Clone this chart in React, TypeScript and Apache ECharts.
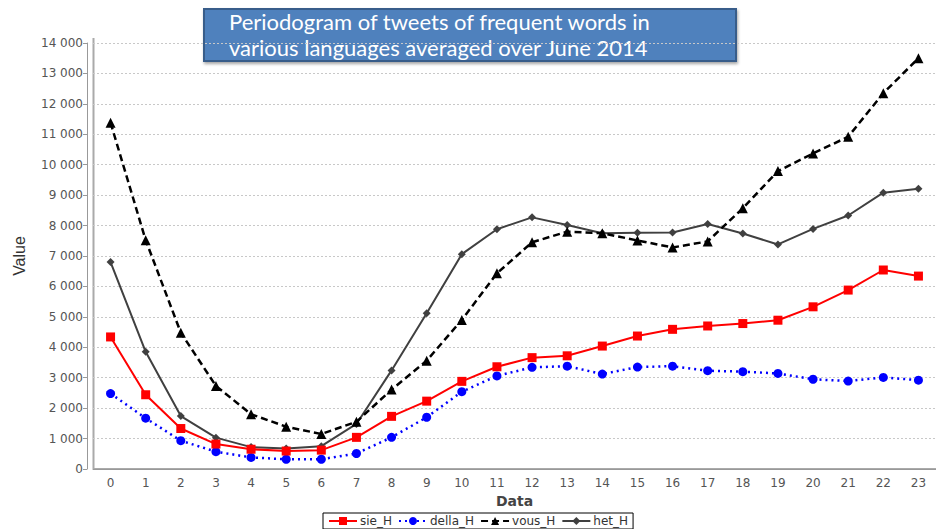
import React, { useEffect, useRef } from "react";
import * as echarts from "echarts";

const hours = ["0","1","2","3","4","5","6","7","8","9","10","11","12","13","14","15","16","17","18","19","20","21","22","23"];
const sieH = [4340, 2440, 1330, 820, 650, 590, 620, 1040, 1730, 2230, 2880, 3360, 3660, 3720, 4040, 4370, 4590, 4700, 4780, 4890, 5330, 5880, 6540, 6340];
const dellaH = [2480, 1670, 930, 570, 380, 320, 320, 510, 1040, 1700, 2540, 3060, 3340, 3380, 3120, 3350, 3380, 3230, 3200, 3140, 2950, 2890, 3010, 2920];
const vousH = [11380, 7520, 4480, 2730, 1800, 1390, 1150, 1550, 2610, 3560, 4900, 6430, 7450, 7800, 7750, 7510, 7280, 7480, 8570, 9790, 10370, 10920, 12350, 13500];
const hetH = [6800, 3850, 1740, 1030, 720, 670, 750, 1480, 3240, 5120, 7060, 7880, 8270, 8020, 7750, 7760, 7770, 8050, 7740, 7380, 7890, 8330, 9080, 9210];
const titleLines = ["Periodogram of tweets of frequent words in", "various languages averaged over June 2014"];

const fmt = (v: number) => String(v).replace(/\B(?=(\d{3})+(?!\d))/g, " ");

export default function App() {
  const ref = useRef<HTMLDivElement>(null);
  useEffect(() => {
    if (!ref.current) return;
    const chart = echarts.init(ref.current, null, { renderer: "svg" });
    const axisFont = "DejaVu Sans, Verdana, sans-serif";
    chart.setOption({
      animation: false,
      backgroundColor: "#ffffff",
      grid: { left: 93, right: -8, top: 43, bottom: 60, containLabel: false },
      xAxis: {
        type: "category",
        data: hours,
        offset: 4,
        name: "Data",
        nameLocation: "middle",
        nameGap: 19,
        nameTextStyle: { fontFamily: axisFont, fontWeight: "bold", fontSize: 14, color: "#444" },
        axisLine: { lineStyle: { color: "#999", width: 1 } },
        axisTick: { alignWithLabel: true, length: 4, lineStyle: { color: "#999" } },
        axisLabel: { fontFamily: axisFont, fontSize: 12, color: "#555", margin: 4 },
        splitLine: { show: false },
      },
      yAxis: {
        type: "value",
        min: 0,
        max: 14000,
        interval: 1000,
        offset: 6,
        name: "Value",
        nameLocation: "middle",
        nameGap: 60,
        nameTextStyle: { fontFamily: "Liberation Sans Narrow, Liberation Sans, sans-serif", fontSize: 16, color: "#333" },
        axisLine: { show: true, lineStyle: { color: "#999", width: 1 } },
        axisTick: { show: true, length: 4, lineStyle: { color: "#999" } },
        axisLabel: { fontFamily: axisFont, fontSize: 12, color: "#555", margin: 4, formatter: fmt },
        splitLine: { show: true, lineStyle: { color: "#c8c8c8", type: [2, 2], width: 1 } },
      },
      legend: {
        left: 323,
        top: 513,
        padding: [2, 5],
        borderColor: "#000",
        borderWidth: 1,
        itemGap: 6,
        itemWidth: 28,
        itemHeight: 10,
        textStyle: { fontFamily: axisFont, fontSize: 12, color: "#333", padding: [0, 0, 0, -2] },
        data: ["sie_H", "della_H", "vous_H", "het_H"],
      },
      graphic: [
        { type: "line", shape: { x1: 93.5, y1: 38, x2: 93.5, y2: 469 }, style: { stroke: "#aaa", lineWidth: 2 }, silent: true },
        { type: "line", shape: { x1: 93, y1: 469, x2: 936, y2: 469 }, style: { stroke: "#aaa", lineWidth: 2 }, silent: true },
        {
          type: "group",
          left: 203,
          top: 8,
          children: [
            { type: "rect", shape: { x: 0, y: 0, width: 532, height: 52 }, style: { fill: "#4f81bd", stroke: "#385d8a", lineWidth: 2, shadowBlur: 3, shadowColor: "rgba(0,0,0,0.35)", shadowOffsetX: 1, shadowOffsetY: 2 } },
            { type: "text", x: 25, y: -1, style: { text: titleLines.join("\n"), fill: "#ffffff", font: "22px Lato, sans-serif", lineHeight: 26.5 } },
          ],
        },
      ],
      series: [
        { name: "sie_H", type: "line", data: sieH, symbol: "rect", symbolSize: 9, itemStyle: { color: "#ff0000" }, lineStyle: { color: "#ff0000", width: 2 }, z: 5 },
        { name: "della_H", type: "line", data: dellaH, symbol: "circle", symbolSize: 9, itemStyle: { color: "#0000ff" }, lineStyle: { color: "#0000ff", width: 2.5, type: [2, 4] }, z: 4 },
        { name: "vous_H", type: "line", data: vousH, symbol: "triangle", symbolSize: 10, itemStyle: { color: "#000000" }, lineStyle: { color: "#000000", width: 2.5, type: [7, 4] }, z: 3 },
        { name: "het_H", type: "line", data: hetH, symbol: "diamond", symbolSize: 8, itemStyle: { color: "#404040" }, lineStyle: { color: "#404040", width: 2 }, z: 2 },
      ],
    });
    return () => chart.dispose();
  }, []);
  return <div ref={ref} style={{ width: 936, height: 529, position: "absolute", left: 0, top: 0 }} />;
}
